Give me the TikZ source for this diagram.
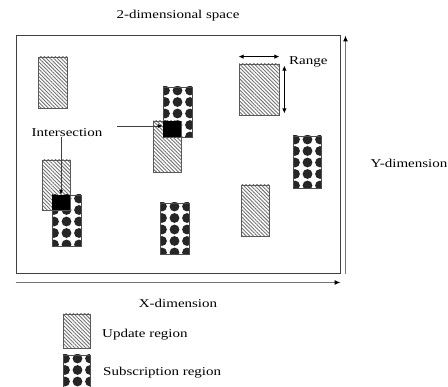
\documentclass[tikz,border=0pt]{standalone}
\usepackage{fontspec}
\setmainfont{Liberation Serif}
\usepackage{graphicx}
\usetikzlibrary{patterns.meta,arrows.meta,calc}
\newcommand\wtxt[1]{\scalebox{1.25}[1]{#1}}
\begin{document}
\begin{tikzpicture}[x=1pt,y=-1pt,
  frame/.style={draw=black!75, line width=1pt, inner sep=0, minimum width=324pt, minimum height=238pt},
  upd/.style={draw=black!65, line width=0.8pt, inner sep=0,
    pattern={Lines[angle=-45,distance=2.6pt,line width=0.9pt]}, pattern color=black!55},
  sub/.style={draw=black!70, line width=0.8pt, inner sep=0, fill=white, path picture={
      \foreach \i in {0,...,2} \foreach \j in {0,...,4}
        \fill[black!85] ($(path picture bounding box.north west)+(\i*12.5+2, \j*11.5+3.5)$) circle[radius=4.9pt];
    }},
  blk/.style={fill=black, inner sep=0},
  axis/.style={draw=black!55, line width=1.1pt, -{Latex[length=6pt,width=5pt,color=black]}},
  arr/.style={draw=black!75, line width=0.8pt, -{Latex[length=5pt,width=4pt,color=black]}},
  rng/.style={draw=black, line width=0.9pt, {Latex[length=5pt,width=4.5pt]}-{Latex[length=5pt,width=4.5pt]}},
  lbl/.style={inner sep=0, font=\fontsize{12}{14}\selectfont}
]
\useasboundingbox (0,0) rectangle (448,387);

\node[frame] (space) at (178,155) {};
\node[lbl] (title) at (178,16) {\wtxt{2-dimensional space}};

% subscription regions
\node[sub, minimum width=29pt, minimum height=50pt] (s1) at (177.5,112) {};
\node[sub, minimum width=29pt, minimum height=51pt] (s2) at (66.5,220.5) {};
\node[sub, minimum width=29pt, minimum height=51pt] (s3) at (174.5,228.5) {};
\node[sub, minimum width=28pt, minimum height=52pt] (s4) at (307,162) {};

% update regions
\node[upd, minimum width=29pt, minimum height=51pt] (u1) at (52.5,82.5) {};
\node[upd, minimum width=40pt, minimum height=51pt] (u2) at (259,89.5) {};
\node[upd, minimum width=28pt, minimum height=51pt] (u3) at (167,146.5) {};
\node[upd, minimum width=28pt, minimum height=50pt] (u4) at (56,185) {};
\node[upd, minimum width=28pt, minimum height=51pt] (u5) at (255,210.5) {};

% intersections
\node[blk, minimum width=18pt, minimum height=16pt] (b1) at (172,129) {};
\node[blk, minimum width=18pt, minimum height=15pt] (b2) at (61,202.5) {};

\node[lbl] (it) at (67,133) {\wtxt{Intersection}};
\coordinate (h0) at (117,126);
\draw[arr] (h0) -- (h0 -| b1.west);
\draw[arr] (it.south -| b2.north) -- (b2.north);

% range
\draw[rng] ([yshift=7pt]u2.north west) -- ([yshift=7pt]u2.north east);
\draw[rng] ([xshift=5pt,yshift=-2pt]u2.north east) -- ([xshift=5pt,yshift=2pt]u2.south east);
\node[lbl, anchor=west] (rg) at (289,62) {\wtxt{Range}};

% axes
\draw[axis] ([xshift=5pt]space.south east) -- ([xshift=5pt]space.north east);
\draw[axis] ([yshift=-8pt]space.south west) -- ([yshift=-8pt]space.south east);
\node[lbl] (yd) at (409,163) {\wtxt{Y-dimension}};
\node[lbl] (xd) at (178,303) {\wtxt{X-dimension}};

% legend
\node[upd, minimum width=27pt, minimum height=34pt] (lu) at (76.5,331) {};
\node[lbl, anchor=west] (lut) at (102,335) {\wtxt{Update region}};
\node[sub, minimum width=27pt, minimum height=34pt] (ls) at (76.5,372) {};
\node[lbl, anchor=west] (lst) at (103,373) {\wtxt{Subscription region}};
\end{tikzpicture}
\end{document}
